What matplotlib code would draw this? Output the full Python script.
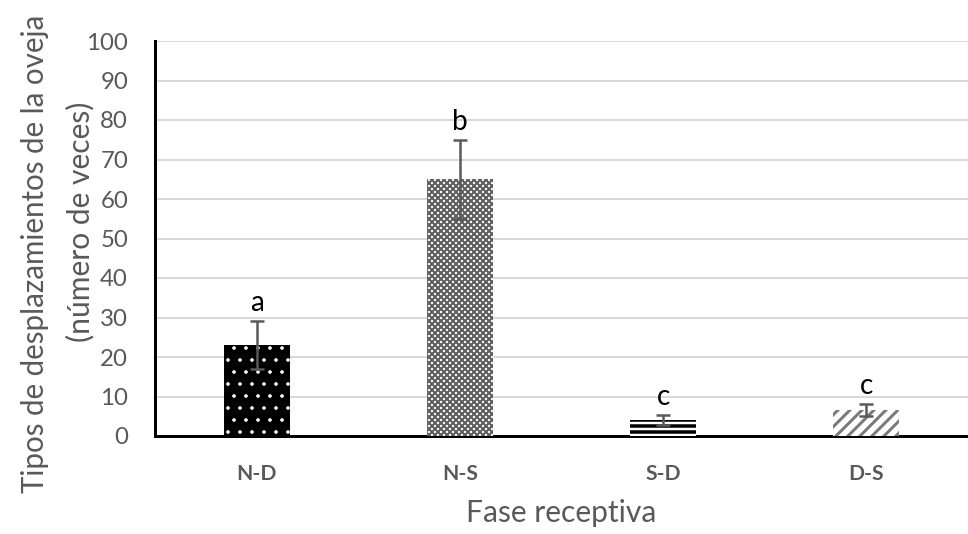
import matplotlib
matplotlib.use("Agg")
import matplotlib as mpl
import matplotlib.pyplot as plt

plt.rcParams['font.family'] = ['Lato', 'DejaVu Sans']

categories = ["N-D", "N-S", "S-D", "D-S"]
values = [23, 65, 4, 6.5]
errors = [6, 10, 1.2, 1.5]
letters = ["a", "b", "c", "c"]

faces = ["black", "white", "black", "white"]
hatch_colors = ["white", "#5f5f5f", "white", "#7a7a7a"]
hatches = [".", "xxxx", "--", "//"]
hatch_lws = [1.2, 2.0, 2.5, 3.0]

W, H = 968, 534
DPI = 72  # at 72 dpi, 1 pt == 1 px
fig = plt.figure(figsize=(W / DPI, H / DPI), dpi=DPI)
ax = fig.add_axes([155 / W, 1 - 436 / H, 813 / W, 395 / H])

x = list(range(len(categories)))
for i in x:
    with mpl.rc_context({'hatch.linewidth': hatch_lws[i]}):
        ax.bar(i, values[i], width=0.325, color=faces[i], edgecolor=hatch_colors[i],
               hatch=hatches[i], linewidth=0, zorder=3)
ax.errorbar(x, values, yerr=errors, fmt='none', ecolor='#595959', elinewidth=2.5,
            capsize=7, capthick=2.5, zorder=4)
for i in x:
    ax.annotate(letters[i], (i, values[i] + errors[i]), xytext=(0, 10),
                textcoords='offset points', ha='center', va='baseline',
                fontsize=28, color='black')

ax.set_xlim(-0.5, 3.5)
ax.set_ylim(0, 100)
ax.set_yticks(range(0, 101, 10))
ax.set_xticks(x)
ax.set_xticklabels(categories, fontweight='bold', fontsize=21, color='#595959')
ax.tick_params(axis='y', labelsize=24, labelcolor='#595959', length=0, pad=27)
ax.tick_params(axis='x', length=0, pad=28)
ax.grid(axis='y', color='#d9d9d9', linewidth=2, zorder=0)
ax.set_axisbelow(True)
for s in ['top', 'right']:
    ax.spines[s].set_visible(False)
for s in ['left', 'bottom']:
    ax.spines[s].set_linewidth(3)
    ax.spines[s].set_color('black')

fig.text(35 / W, 1 - 254 / H, "Tipos de desplazamientos de la oveja", rotation=90,
         ha='center', va='center', fontsize=29.5, color='#595959')
fig.text(80 / W, 1 - 222 / H, "(número de veces)", rotation=90,
         ha='center', va='center', fontsize=30, color='#595959')
fig.text(561 / W, 1 - 522 / H, "Fase receptiva", ha='center', va='baseline',
         fontsize=30, color='#595959')

fig.savefig("out.png", dpi=DPI)
